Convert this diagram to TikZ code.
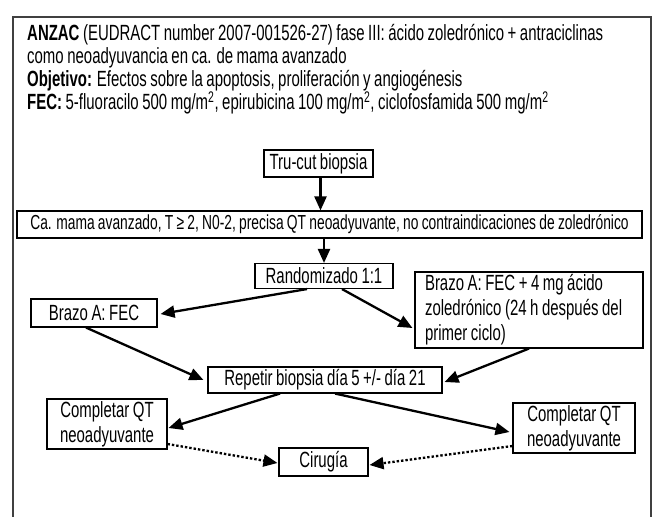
\documentclass[tikz,border=0pt]{standalone}
\usepackage{fontspec}
\setmainfont{Liberation Sans}[FakeStretch=0.68,WordSpace=0.85]
\usetikzlibrary{arrows.meta,calc}
\begin{document}
\begin{tikzpicture}[x=1pt,y=-1pt,
  txt/.style={inner sep=0pt,font=\fontsize{22}{23}\selectfont},
  box/.style={draw,line width=1.1pt,inner sep=0pt,font=\fontsize{22}{25}\selectfont,align=center},
  arr/.style={line width=2.3pt,-{Triangle[length=14pt,width=12pt]}},
  dotarr/.style={line width=2.3pt,dash pattern=on 2.4pt off 2pt,-{Triangle[length=14pt,width=12pt]}}]
\useasboundingbox (0,0) rectangle (655,516);
% frame
\draw[line width=1.3pt,black!75] (13,530) -- (13,17) -- (651,17) -- (651,530);
% title
\node[txt,anchor=base west] (t1) at (27,41) {\textbf{ANZAC} (EUDRACT number 2007-001526-27) fase III: ácido zoledrónico + antraciclinas};
\node[txt,anchor=base west] (t2) at (27,64) {como neoadyuvancia en ca. de mama avanzado};
\node[txt,anchor=base west] (t3) at (27,87) {\textbf{Objetivo:} Efectos sobre la apoptosis, proliferación y angiogénesis};
\node[txt,anchor=base west] (t4) at (27,110) {\textbf{FEC:} 5-fluoracilo 500 mg/m\textsuperscript{2}, epirubicina 100 mg/m\textsuperscript{2}, ciclofosfamida 500 mg/m\textsuperscript{2}};
% boxes
\node[box,minimum width=109pt,minimum height=27pt] (tru) at (318.5,163.5) {Tru-cut biopsia};
\node[box,minimum width=625pt,minimum height=27pt,font=\fontsize{20.3}{24}\selectfont] (ca) at (329.5,224.5) {Ca. mama avanzado, T ≥ 2, N0-2, precisa QT neoadyuvante, no contraindicaciones de zoledrónico};
\node[box,minimum width=138pt,minimum height=25pt] (rand) at (324,276) {Randomizado 1:1};
\node[box,minimum width=126pt,minimum height=28pt] (bA) at (94,313) {Brazo A: FEC};
\node[box,minimum width=228pt,minimum height=76pt,inner xsep=8pt,align=flush left] (bB) at (529,310) {Brazo A: FEC + 4 mg ácido\hspace*{30pt}\\zoledrónico (24 h después del\\primer ciclo)};
\node[box,minimum width=234pt,minimum height=26pt] (rep) at (325,380) {Repetir biopsia día 5 +/- día 21};
\node[box,minimum width=120pt,minimum height=50pt] (cL) at (107,424) {Completar QT\\neoadyuvante};
\node[box,minimum width=122pt,minimum height=50pt] (cR) at (574,428) {Completar QT\\neoadyuvante};
\node[box,minimum width=89pt,minimum height=28pt] (cir) at (323.5,462) {Cirugía};
% connectors
\draw[arr] ([xshift=2pt]tru.south) -- ([xshift=2pt]tru.south |- ca.north);
\draw[arr] (rand.north |- ca.south) -- (rand.north);
\draw[arr] ([xshift=-17pt]rand.south) -- ([xshift=3pt,yshift=-1pt]bA.east);
\draw[arr] ([xshift=18pt]rand.south) -- ([xshift=-2pt,yshift=-18pt]bB.west);
\draw[arr] ([xshift=-8pt]bA.south) -- ([xshift=-4pt]rep.west);
\draw[arr] (bB.south) -- ([xshift=2pt,yshift=-2pt]rep.east);
\draw[arr] ([xshift=-45pt]rep.south) -- ([xshift=1pt,yshift=-4pt]cL.east);
\draw[arr] ([xshift=10pt]rep.south) -- ([xshift=-3pt,yshift=-4pt]cR.west);
\draw[dotarr] ([yshift=-20pt]cL.east) -- ([xshift=-1pt,yshift=-1pt]cir.west);
\draw[dotarr] ([yshift=-18pt]cR.west) -- ([xshift=1pt,yshift=-3pt]cir.east);
\end{tikzpicture}
\end{document}
